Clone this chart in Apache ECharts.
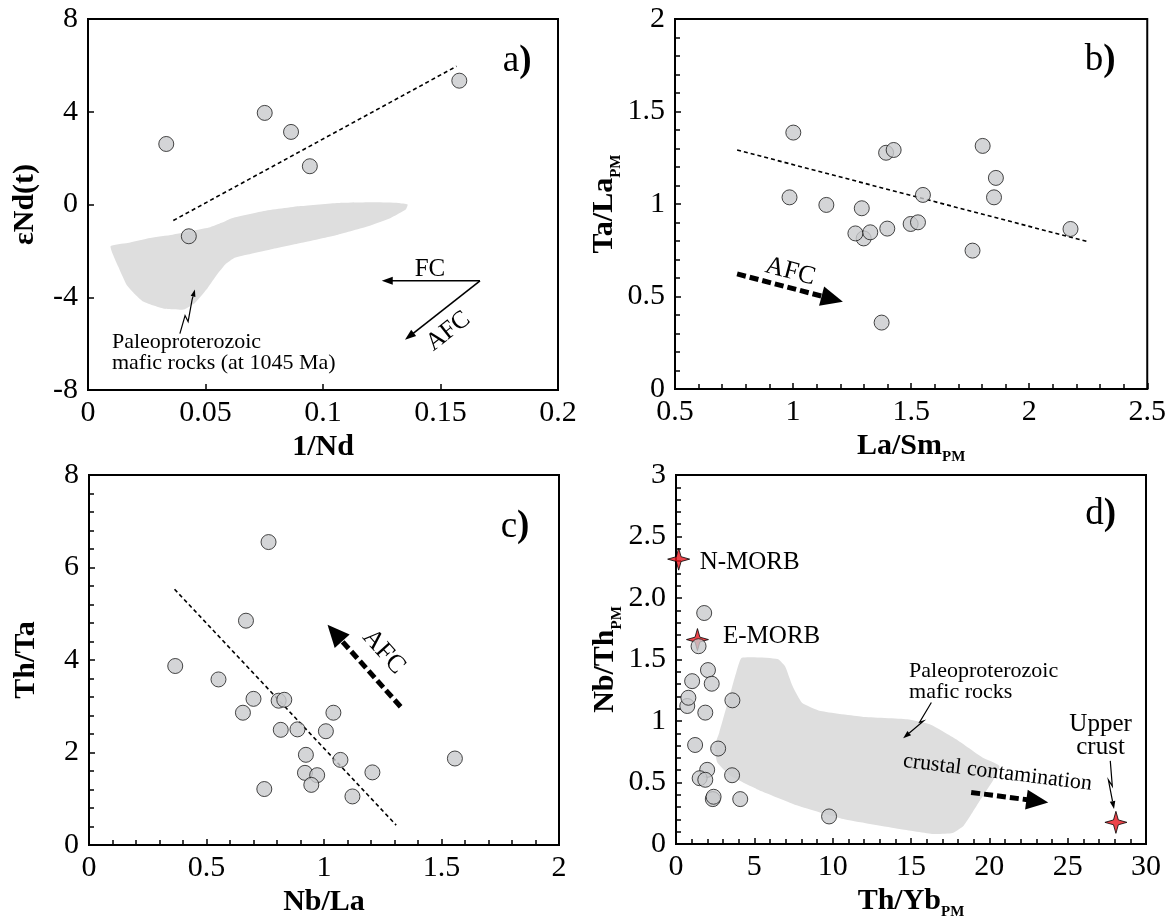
<!DOCTYPE html>
<html>
<head>
<meta charset="utf-8">
<script src="https://cdn.jsdelivr.net/npm/echarts@6/dist/echarts.min.js"></script>
<style>html,body{margin:0;padding:0;background:#fff}#c{width:1169px;height:921px}</style>
</head>
<body>
<div id="c"></div>
<script>
// ---------- DATA ----------
// Panel a: 1/Nd vs eNd(t)
const aPoints = [[0.0333,2.61],[0.0429,-1.37],[0.0752,3.95],[0.0864,3.13],[0.0944,1.65],[0.158,5.34]];
const aTrend = [[0.0363,-0.69],[0.1568,5.96]];
const aField = [[0.0096,-1.80],[0.0128,-2.66],[0.0168,-3.52],[0.0232,-4.17],[0.0328,-4.50],[0.0408,-4.53],[0.0456,-4.24],[0.0504,-3.67],[0.0544,-3.09],[0.0584,-2.59],[0.0624,-2.30],[0.068,-2.16],[0.0776,-1.94],[0.0904,-1.66],[0.1064,-1.30],[0.1192,-0.94],[0.1288,-0.58],[0.1352,-0.22],[0.136,0.0],[0.132,0.07],[0.1224,0.10],[0.1064,0.07],[0.0904,-0.07],[0.0744,-0.29],[0.0616,-0.58],[0.0568,-0.79],[0.052,-0.98],[0.0456,-1.11],[0.036,-1.30],[0.0264,-1.44],[0.0168,-1.66]];
const aVectors = [[0.1668,-3.29,0.125,-3.29],[0.1668,-3.29,0.1349,-5.83]];
const aLeader = [[0.0391,-5.57],[0.0413,-4.79],[0.0426,-5.05],[0.0443,-4.10],[0.0455,-3.67]];
const aXTicks = [0,0.05,0.1,0.15,0.2];
const aYTicks = [-8,-4,0,4,8];

// Panel b: La/Sm_PM vs Ta/La_PM
const bPoints = [[1.299,0.814],[1.001,1.386],[0.985,1.036],[1.141,0.995],[1.291,0.977],[1.264,0.841],[1.327,0.847],[1.394,1.277],[1.426,1.292],[1.399,0.867],[1.498,0.892],[1.529,0.901],[1.550,1.049],[1.375,0.359],[1.760,0.748],[1.803,1.314],[1.859,1.141],[1.851,1.036],[2.175,0.865]];
const bTrend = [[0.763,1.292],[2.249,0.796]];
const bVector = [[0.763,0.622,1.211,0.472]];

// Panel c: Nb/La vs Th/Ta
const cPoints = [[0.367,3.87],[0.551,3.58],[0.668,4.85],[0.655,2.86],[0.700,3.16],[0.764,6.55],[0.807,3.12],[0.831,3.14],[0.816,2.49],[0.887,2.50],[1.008,2.46],[1.040,2.86],[0.923,1.95],[0.919,1.56],[0.971,1.51],[0.946,1.30],[0.746,1.21],[1.070,1.84],[1.206,1.57],[1.121,1.05],[1.557,1.87]];
const cTrend = [[0.364,5.53],[1.307,0.43]];
const cVector = [[1.326,2.99,1.015,4.76]];

// Panel d: Th/Yb_PM vs Nb/Th_PM
const dPoints = [[1.80,1.878],[1.44,1.608],[2.04,1.414],[2.28,1.303],[1.03,1.324],[0.72,1.122],[0.79,1.189],[3.60,1.168],[1.87,1.068],[1.22,0.805],[2.69,0.776],[1.99,0.603],[1.51,0.535],[1.87,0.522],[3.58,0.559],[2.35,0.365],[2.40,0.384],[4.10,0.365],[9.77,0.224]];
const dRefNames = ['N-MORB','E-MORB','Upper crust'];
const dRefValues = [[0.17,2.316],[1.37,1.662],[28.08,0.176]];
const dField = [[4.20,1.514],[6.48,1.505],[6.96,1.446],[7.44,1.284],[8.04,1.149],[9.24,1.081],[11.88,1.035],[14.76,1.014],[16.2,0.973],[17.88,0.851],[19.56,0.703],[20.64,0.635],[20.28,0.527],[19.32,0.338],[18.36,0.149],[17.64,0.089],[16.44,0.081],[14.28,0.122],[10.68,0.203],[7.80,0.311],[5.16,0.446],[3.48,0.554],[2.64,0.662],[2.47,0.797],[2.76,0.905],[3.36,1.176],[3.84,1.392]];
const dVector = [[18.84,0.419,23.76,0.338]];
const dFieldLeader = [[16.3,1.15],[15.55,0.99],[15.8,1.0],[14.5,0.86]];
const dCrustLeader = [[27.72,0.676],[27.85,0.47],[27.6,0.52],[27.96,0.284]];

// ---------- STYLE HELPERS ----------
const SERIF = "'Liberation Serif', serif";
const grids = [
  {left:88, top:19, width:470, height:371},
  {left:675, top:19, width:473, height:370},
  {left:89, top:475, width:470, height:370},
  {left:676, top:475, width:470, height:370}
];
const nameRich = {m:{fontFamily:SERIF,fontSize:30,fontWeight:'bold',color:'#000'}, s:{fontFamily:SERIF,fontSize:15,fontWeight:'bold',color:'#000',verticalAlign:'bottom',padding:[0,0,-4,0]}};
function xAx(i, min, max, interval, name, minorSplit, extra){
  return Object.assign({
    type:'value', gridIndex:i, min:min, max:max, interval:interval,
    name:name, nameLocation:'middle', nameGap:42,
    nameTextStyle:{fontFamily:SERIF, fontSize:30, fontWeight:'bold', color:'#000', rich:nameRich},
    axisLine:{show:true,onZero:false,lineStyle:{color:'#000',width:2}},
    axisTick:{show:true,inside:true,length:6,lineStyle:{color:'#000',width:1.5}},
    minorTick:{show:minorSplit>0,splitNumber:minorSplit||5,length:5,lineStyle:{color:'#000',width:1.5}},
    splitLine:{show:false},
    axisLabel:{fontFamily:SERIF,fontSize:30,color:'#000',margin:8,showMinLabel:true,showMaxLabel:true}
  }, extra||{});
}
function yLabel(fmt){
  const l = {fontFamily:SERIF,fontSize:30,color:'#000',margin:10,padding:[8,0,0,0],showMinLabel:true,showMaxLabel:true};
  if (fmt) l.formatter = fmt;
  return l;
}
function yAx(i, min, max, interval, name, minorSplit, fmt){
  return {
    type:'value', gridIndex:i, min:min, max:max, interval:interval,
    name:name, nameLocation:'middle', nameGap:48, nameRotate:90,
    nameTextStyle:{fontFamily:SERIF, fontSize:30, fontWeight:'bold', color:'#000', rich:nameRich},
    axisLine:{show:true,onZero:false,lineStyle:{color:'#000',width:2}},
    axisTick:{show:true,inside:true,length:6,lineStyle:{color:'#000',width:1.5}},
    minorTick:{show:minorSplit>0,splitNumber:minorSplit||5,length:5,lineStyle:{color:'#000',width:1.5}},
    splitLine:{show:false},
    axisLabel:yLabel(fmt)
  };
}
function pointsSeries(i, data){
  return {type:'scatter', xAxisIndex:i, yAxisIndex:i, data:data, symbol:'circle', symbolSize:15, z:5,
    itemStyle:{color:'#c9cacd', borderColor:'#1a1a1a', borderWidth:1}, silent:true};
}
function trendSeries(i, data){
  return {type:'line', xAxisIndex:i, yAxisIndex:i, data:data, symbol:'none', z:4, silent:true,
    lineStyle:{color:'#000', width:1.6, type:[4,3]}};
}
function polygonSeries(i, pts){
  return {type:'custom', xAxisIndex:i, yAxisIndex:i, data:[pts[0]], z:1, silent:true,
    renderItem:function(params, api){
      const p = pts.map(v => api.coord(v));
      return {type:'polygon', shape:{points:p, smooth:0.15}, style:{fill:'#dedede', stroke:null}};
    }};
}
function polylineArrowSeries(i, pts, head){
  return {type:'custom', xAxisIndex:i, yAxisIndex:i, data:[pts[0]], z:6, silent:true,
    renderItem:function(params, api){
      const p = pts.map(v => api.coord(v));
      const a = p[p.length-2], b = p[p.length-1];
      const dx=b[0]-a[0], dy=b[1]-a[1], L=Math.hypot(dx,dy), ux=dx/L, uy=dy/L;
      const base=[b[0]-ux*head, b[1]-uy*head];
      const w=head*0.35;
      const pl = p.slice(0,-1).concat([base]);
      return {type:'group', children:[
        {type:'polyline', shape:{points:pl}, style:{stroke:'#000', lineWidth:1.2, fill:null}},
        {type:'polygon', shape:{points:[b,[base[0]-uy*w,base[1]+ux*w],[base[0]+uy*w,base[1]-ux*w]]}, style:{fill:'#000'}}
      ]};
    }};
}
function arrowSeries(i, data, o){
  return {type:'custom', xAxisIndex:i, yAxisIndex:i, data:data, z:6, silent:true,
    dimensions:['x1','y1','x2','y2'], encode:{x:[0,2], y:[1,3]},
    renderItem:function(params, api){
      const p1 = api.coord([api.value(0), api.value(1)]);
      const p2 = api.coord([api.value(2), api.value(3)]);
      const dx=p2[0]-p1[0], dy=p2[1]-p1[1], L=Math.hypot(dx,dy), ux=dx/L, uy=dy/L;
      const base=[p2[0]-ux*o.head, p2[1]-uy*o.head];
      const w=o.headW/2;
      return {type:'group', children:[
        {type:'line', shape:{x1:p1[0],y1:p1[1],x2:base[0]+ux*1,y2:base[1]+uy*1}, style:{stroke:'#000', lineWidth:o.width, lineDash:o.dash||null}},
        {type:'polygon', shape:{points:[p2,[base[0]-uy*w,base[1]+ux*w],[base[0]+uy*w,base[1]-ux*w]]}, style:{fill:'#000'}}
      ]};
    }};
}
function textSeries(i, items){
  return {type:'custom', xAxisIndex:i, yAxisIndex:i, z:7, silent:true,
    data:items.map(t => t.at),
    renderItem:function(params, api){
      const t = items[params.dataIndex];
      const p = api.coord([api.value(0), api.value(1)]);
      return {type:'text', x:p[0], y:p[1], rotation:(t.rot||0)*Math.PI/180,
        style:{text:t.text, fontFamily:SERIF, fontSize:t.size||22, fill:'#000',
          align:t.align||'center', verticalAlign:'middle', lineHeight:t.lh||undefined,
          rich:{n:{fontFamily:SERIF,fontSize:37,fill:'#000'}, b:{fontFamily:SERIF,fontSize:37,fontWeight:'bold',fill:'#000'}}}};
    }};
}

const option = {
  animation:false,
  backgroundColor:'#fff',
  grid: grids.map(g => Object.assign({show:true, borderColor:'#000', borderWidth:2, backgroundColor:'transparent', containLabel:false}, g)),
  xAxis:[
    xAx(0, aXTicks[0], aXTicks[aXTicks.length-1], 0.05, '1/Nd', 0),
    xAx(1, 0.5, 2.5, 0.5, '{m|La/Sm}{s|PM}', 5),
    xAx(2, 0, 2, 0.5, 'Nb/La', 5),
    xAx(3, 0, 30, 5, '{m|Th/Yb}{s|PM}', 5)
  ],
  yAxis:[
    yAx(0, aYTicks[0], aYTicks[aYTicks.length-1], 4, 'εNd(t)', 0),
    yAx(1, 0, 2, 0.5, '{m|Ta/La}{s|PM}', 5),
    yAx(2, 0, 8, 2, 'Th/Ta', 5),
    yAx(3, 0, 3, 0.5, '{m|Nb/Th}{s|PM}', 5, v => (v===2?'2.0':String(v)))
  ],
  series:[
    // panel a
    polygonSeries(0, aField),
    trendSeries(0, aTrend),
    pointsSeries(0, aPoints),
    arrowSeries(0, aVectors, {width:1.6, head:11, headW:8}),
    polylineArrowSeries(0, aLeader, 7),
    textSeries(0, [
      {at:[0.1826,6.18], text:'{n|a}{b|)}'},
      {at:[0.1455,-2.78], text:'FC', size:25},
      {at:[0.1533,-5.47], text:'AFC', size:25, rot:38},
      {at:[0.0102,-6.39], text:'Paleoproterozoic\nmafic rocks (at 1045 Ma)', size:22, lh:21, align:'left'}
    ]),
    // panel b
    trendSeries(1, bTrend),
    pointsSeries(1, bPoints),
    arrowSeries(1, bVector, {width:5, dash:[9,4], head:22, headW:20}),
    textSeries(1, [
      {at:[2.301,1.778], text:'{n|b}{b|)}'},
      {at:[0.988,0.634], text:'AFC', size:26, rot:-15}
    ]),
    // panel c
    trendSeries(2, cTrend),
    pointsSeries(2, cPoints),
    arrowSeries(2, cVector, {width:5, dash:[9,4], head:22, headW:20}),
    textSeries(2, [
      {at:[1.813,6.88], text:'{n|c}{b|)}'},
      {at:[1.254,4.18], text:'AFC', size:26, rot:-48}
    ]),
    // panel d
    polygonSeries(3, dField),
    {type:'scatter', xAxisIndex:3, yAxisIndex:3, data:dRefValues.map((v,k)=>({name:dRefNames[k], value:v})), z:5, silent:true,
      symbol:'path://M0,-10 L2.2,-2.2 L10,0 L2.2,2.2 L0,10 L-2.2,2.2 L-10,0 L-2.2,-2.2 Z', symbolSize:22,
      itemStyle:{color:'#e8141c', borderColor:'#000', borderWidth:1}},
    pointsSeries(3, dPoints),
    arrowSeries(3, dVector, {width:5, dash:[9,4], head:22, headW:20}),
    polylineArrowSeries(3, dFieldLeader, 8),
    polylineArrowSeries(3, dCrustLeader, 8),
    textSeries(3, [
      {at:[27.1,2.68], text:'{n|d}{b|)}'},
      {at:[1.51,2.29], text:'N-MORB', size:25, align:'left'},
      {at:[3.0,1.69], text:'E-MORB', size:25, align:'left'},
      {at:[27.1,0.88], text:'Upper\ncrust', size:25, lh:23},
      {at:[14.88,1.318], text:'Paleoproterozoic\nmafic rocks', size:22, lh:21, align:'left'},
      {at:[20.52,0.581], text:'crustal contamination', size:22, rot:-7}
    ])
  ]
};
const chart = echarts.init(document.getElementById('c'), null, {renderer:'canvas'});
chart.setOption(option);
</script>
</body>
</html>
